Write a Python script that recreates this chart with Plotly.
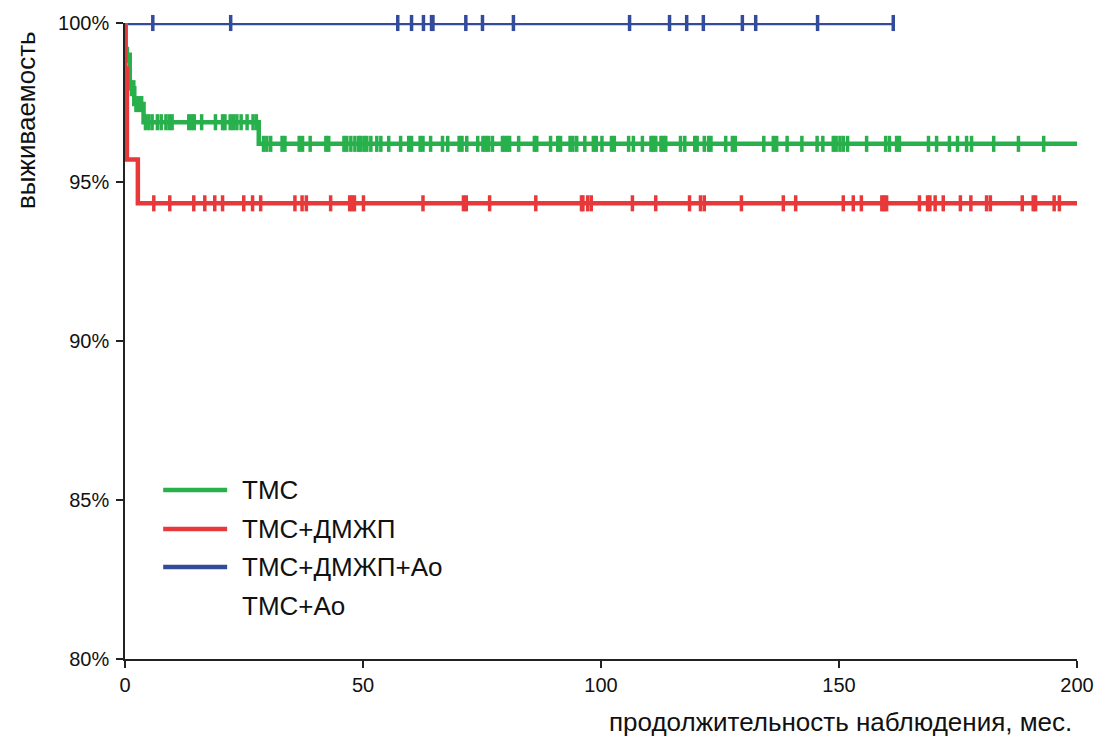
import numpy as np
import plotly.graph_objects as go

# ---- data (months, survival %) ----
tms_times = [0, 0.15, 1.0, 1.95, 3.9, 28.1, 200]
tms_surv = [100, 99.0, 97.95, 97.45, 96.88, 96.2, 96.2]
tms_cens = [0.5, 1.35, 1.85, 2.3, 2.9, 3.5,
            4.3, 5.0, 5.7, 6.8, 7.6, 8.6, 9.3, 9.9, 13.4, 14.0, 14.55, 16.1, 19.0,
            20.5, 21.0, 22.1, 22.8, 23.5, 24.4, 25.65, 26.9, 27.6,
            29.1, 29.8, 30.6, 33.0, 33.6, 36.6, 37.3, 38.9, 42.2, 42.8, 46.0, 46.6,
            47.45, 48.3, 49.1, 49.5, 50.2, 50.8, 51.65, 52.9, 53.75, 55.4, 57.9,
            59.6, 60.2, 62.0, 62.6, 64.2, 66.7, 67.8, 70.2, 70.8, 71.8, 74.1, 75.2,
            75.8, 76.4, 77.2, 79.3, 79.8, 80.3, 80.8, 82.7, 86.0, 86.5, 89.4, 90.9,
            91.5, 93.5, 94.1, 94.9, 96.6, 98.4, 99.0, 100.2, 102.2, 102.8, 105.8,
            106.8, 108.7, 110.5, 111.0, 111.5, 112.6, 113.1, 113.6, 116.7, 117.6,
            119.7, 120.2, 121.7, 122.6, 123.1, 126.2, 127.6, 128.2, 134.2, 136.2,
            136.9, 139.1, 142.2, 145.4, 146.6, 148.8, 149.4, 150.2, 150.9, 151.8,
            155.8, 159.8, 160.6, 162.1, 162.7, 168.8, 170.5, 173.2, 174.9, 176.8,
            177.85, 182.5, 187.7, 193.0]

vsd_times = [0, 0.05, 0.4, 2.7, 200]
vsd_surv = [100, 98.57, 95.71, 94.33, 94.33]
vsd_cens = [6.05, 9.41, 14.45, 16.76, 18.86, 20.5, 24.95, 26.8, 28.5, 35.7, 37.2,
            38.1, 43.2, 47.2, 47.7, 48.2, 50.1, 62.6, 71.1, 71.7, 76.6, 86.3, 95.9,
            96.2, 97.2, 97.95, 106.6, 111.5, 118.6, 120.9, 121.7, 129.5, 138.3,
            140.9, 150.9, 153.0, 154.7, 159.0, 159.5, 160.0, 166.9, 168.6, 169.1,
            170.2, 171.9, 175.5, 177.7, 181.0, 181.8, 188.5, 190.8, 191.3, 195.2,
            196.3]

ao_times = [0, 161.4]
ao_surv = [100, 100]
ao_cens = [5.84, 22.2, 57.3, 60.2, 62.7, 64.4, 64.7, 71.6, 75.1, 81.6, 106.0,
           114.4, 118.0, 121.5, 129.7, 132.5, 145.5, 161.4]

names = ["ТМС", "ТМС+ДМЖП", "ТМС+ДМЖП+Ао", "ТМС+Ао"]
colors = ["#27B04B", "#E8393A", "#334B9B", "rgba(0,0,0,0)"]

x_ticks = [0, 50, 100, 150, 200]
y_ticks = [80, 85, 90, 95, 100]
y_ticktext = ["80%", "85%", "90%", "95%", "100%"]

FONT = "Liberation Sans, Arial, sans-serif"


def step_lookup(times, surv, t):
    idx = np.searchsorted(np.array(times), np.array(t), side="right") - 1
    return list(np.array(surv)[idx])


fig = go.Figure()
series = [
    (ao_times, ao_surv, ao_cens, colors[2]),
    (tms_times, tms_surv, tms_cens, colors[0]),
    (vsd_times, vsd_surv, vsd_cens, colors[1]),
]
for times, surv, cens, col in series:
    fig.add_trace(go.Scatter(x=times, y=surv, mode="lines", line_shape="hv",
                             line=dict(color=col, width=4.5), showlegend=False,
                             cliponaxis=False, hoverinfo="skip"))
    fig.add_trace(go.Scatter(x=cens, y=step_lookup(times, surv, cens), mode="markers",
                             marker=dict(symbol="line-ns", size=11.5,
                                         line=dict(color=col, width=3.5)),
                             showlegend=False, cliponaxis=False))

# custom legend
row_y = [0.2657, 0.2044, 0.1447, 0.0833]
for name, col, yy in zip(names, colors, row_y):
    if col != "rgba(0,0,0,0)":
        fig.add_shape(type="line", xref="paper", yref="paper", x0=0.0401, x1=0.1073,
                      y0=yy, y1=yy, line=dict(color=col, width=4.5))
    fig.add_annotation(text=name, xref="paper", yref="paper", x=0.1213, y=yy,
                       xanchor="left", yanchor="middle", showarrow=False,
                       font=dict(family=FONT, size=26, color="#111"))

fig.add_annotation(text="выживаемость", xref="paper", yref="paper", x=-0.104, y=0.8475,
                   textangle=-90, xanchor="center", yanchor="middle", showarrow=False,
                   font=dict(family=FONT, size=26, color="#111"))
fig.add_annotation(text="продолжительность наблюдения, мес.", xref="paper", yref="paper",
                   x=1.0, xshift=-3, y=-0.099, xanchor="right", yanchor="middle",
                   showarrow=False, font=dict(family=FONT, size=26, color="#111"))

fig.update_layout(
    width=1102, height=741,
    margin=dict(l=124.5, r=25, t=23, b=82, autoexpand=False),
    paper_bgcolor="white", plot_bgcolor="white",
    font=dict(family=FONT, size=20, color="#111"),
    xaxis=dict(range=[0, 200], tickvals=x_ticks, showgrid=False, zeroline=False,
               showline=True, linecolor="#222", linewidth=1.5, ticks="outside",
               ticklen=7, tickwidth=1.5, tickcolor="#222",
               tickfont=dict(family=FONT, size=20, color="#111")),
    yaxis=dict(range=[80, 100], tickvals=y_ticks, ticktext=y_ticktext, showgrid=False,
               zeroline=False, showline=True, linecolor="#222", linewidth=1.5,
               ticks="outside", ticklen=7, tickwidth=1.5, tickcolor="#222",
               ticklabelstandoff=3,
               tickfont=dict(family=FONT, size=20, color="#111")),
)

fig.write_html("out.html")
